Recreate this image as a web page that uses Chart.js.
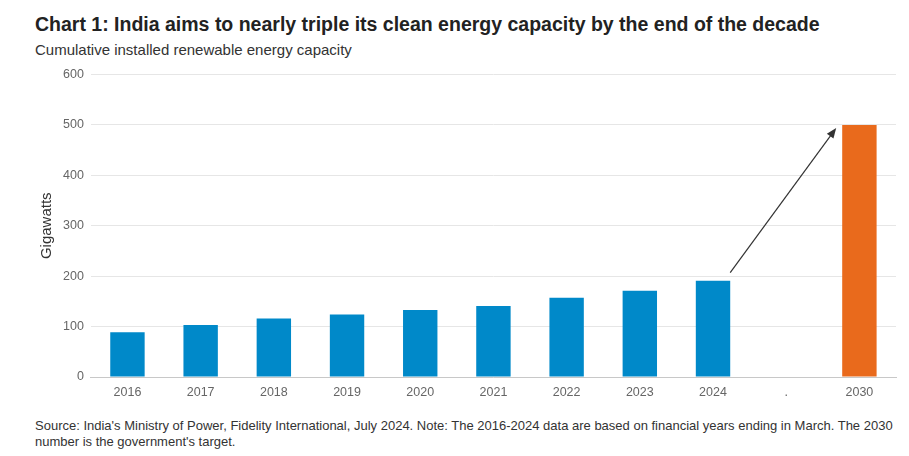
<!DOCTYPE html>
<html>
<head>
  <title>India clean energy capacity</title>
  <script src="https://cdn.jsdelivr.net/npm/chart.js"></script>
  <style>
    body { margin: 0; font-family: "Liberation Sans", Arial, sans-serif; background: #fff; width: 909px; height: 456px; position: relative; overflow: hidden; }
    #title { position: absolute; left: 35px; top: 13px; font-size: 19.5px; font-weight: bold; color: #222; white-space: nowrap; }
    #subtitle { position: absolute; left: 35px; top: 41px; font-size: 15px; color: #333; white-space: nowrap; }
    #wrap { position: absolute; left: 0; top: 60px; width: 909px; height: 348px; }
    #footer { position: absolute; left: 35px; top: 418px; width: 874px; font-size: 13px; line-height: 16px; color: #333; }
  </style>
</head>
<body>
  <div id="title">Chart 1: India aims to nearly triple its clean energy capacity by the end of the decade</div>
  <div id="subtitle">Cumulative installed renewable energy capacity</div>
  <div id="wrap"><canvas id="myChart"></canvas></div>
  <div id="footer">Source: India's Ministry of Power, Fidelity International, July 2024. Note: The 2016-2024 data are based on financial years ending in March. The 2030 number is the government's target.</div>
  <script>
    // data
    const years = ['2016', '2017', '2018', '2019', '2020', '2021', '2022', '2023', '2024', '.', '2030'];
    const installed = [89, 103, 116, 124, 133, 141, 157, 171, 191, null, null];
    const target = [null, null, null, null, null, null, null, null, null, null, 500];
    const yTicks = [0, 100, 200, 300, 400, 500, 600];

    // arrow from top of 2024 to 2030 target
    const arrowFrom = { cat: 8, value: 207 };
    const arrowTo = { cat: 10, value: 494 };

    const arrowPlugin = {
      id: 'arrow',
      afterDatasetsDraw(chart) {
        const c = chart.ctx;
        const ys = chart.scales.y;
        const barA = chart.getDatasetMeta(0).data[arrowFrom.cat];
        const barB = chart.getDatasetMeta(1).data[arrowTo.cat];
        const x1 = barA.x + barA.width / 2;
        const y1 = ys.getPixelForValue(arrowFrom.value);
        const x2 = barB.x - barB.width / 2 - 6;
        const y2 = ys.getPixelForValue(arrowTo.value);
        const ang = Math.atan2(y2 - y1, x2 - x1);
        const head = 11;
        c.save();
        c.strokeStyle = '#333';
        c.fillStyle = '#333';
        c.lineWidth = 1.2;
        c.beginPath();
        c.moveTo(x1, y1);
        c.lineTo(x2 - Math.cos(ang) * head * 0.8, y2 - Math.sin(ang) * head * 0.8);
        c.stroke();
        c.beginPath();
        c.moveTo(x2, y2);
        c.lineTo(x2 - head * Math.cos(ang - 0.38), y2 - head * Math.sin(ang - 0.38));
        c.lineTo(x2 - head * Math.cos(ang + 0.38), y2 - head * Math.sin(ang + 0.38));
        c.closePath();
        c.fill();
        c.restore();
      }
    };

    const ctx = document.getElementById('myChart').getContext('2d');
    const myChart = new Chart(ctx, {
      type: 'bar',
      data: {
        labels: years,
        datasets: [
          {
            label: 'Installed',
            data: installed,
            backgroundColor: '#0089c9',
            categoryPercentage: 1,
            barPercentage: 0.47,
            grouped: false
          },
          {
            label: 'Target',
            data: target,
            backgroundColor: '#e96a1c',
            categoryPercentage: 1,
            barPercentage: 0.47,
            grouped: false
          }
        ]
      },
      options: {
        responsive: true,
        maintainAspectRatio: false,
        animation: false,
        layout: { padding: { left: 38, right: 13, top: 4, bottom: 0 } },
        plugins: {
          legend: { display: false },
          tooltip: { enabled: false }
        },
        scales: {
          x: {
            grid: { display: false, drawTicks: false },
            border: { color: '#c8c8c8' },
            ticks: {
              color: '#666',
              font: { family: 'Liberation Sans', size: 12.5 },
              padding: 8,
              maxRotation: 0
            }
          },
          y: {
            min: 0,
            max: 600,
            afterBuildTicks: (axis) => { axis.ticks = yTicks.map(v => ({ value: v })); },
            grid: { color: '#e6e6e6', drawTicks: false, lineWidth: 1 },
            border: { display: false },
            ticks: {
              color: '#666',
              font: { family: 'Liberation Sans', size: 12.5 },
              padding: 7
            },
            title: {
              display: true,
              text: 'Gigawatts',
              color: '#333',
              font: { family: 'Liberation Sans', size: 15 },
              padding: { top: 0, bottom: 0 }
            }
          }
        }
      },
      plugins: [arrowPlugin]
    });
  </script>
</body>
</html>
